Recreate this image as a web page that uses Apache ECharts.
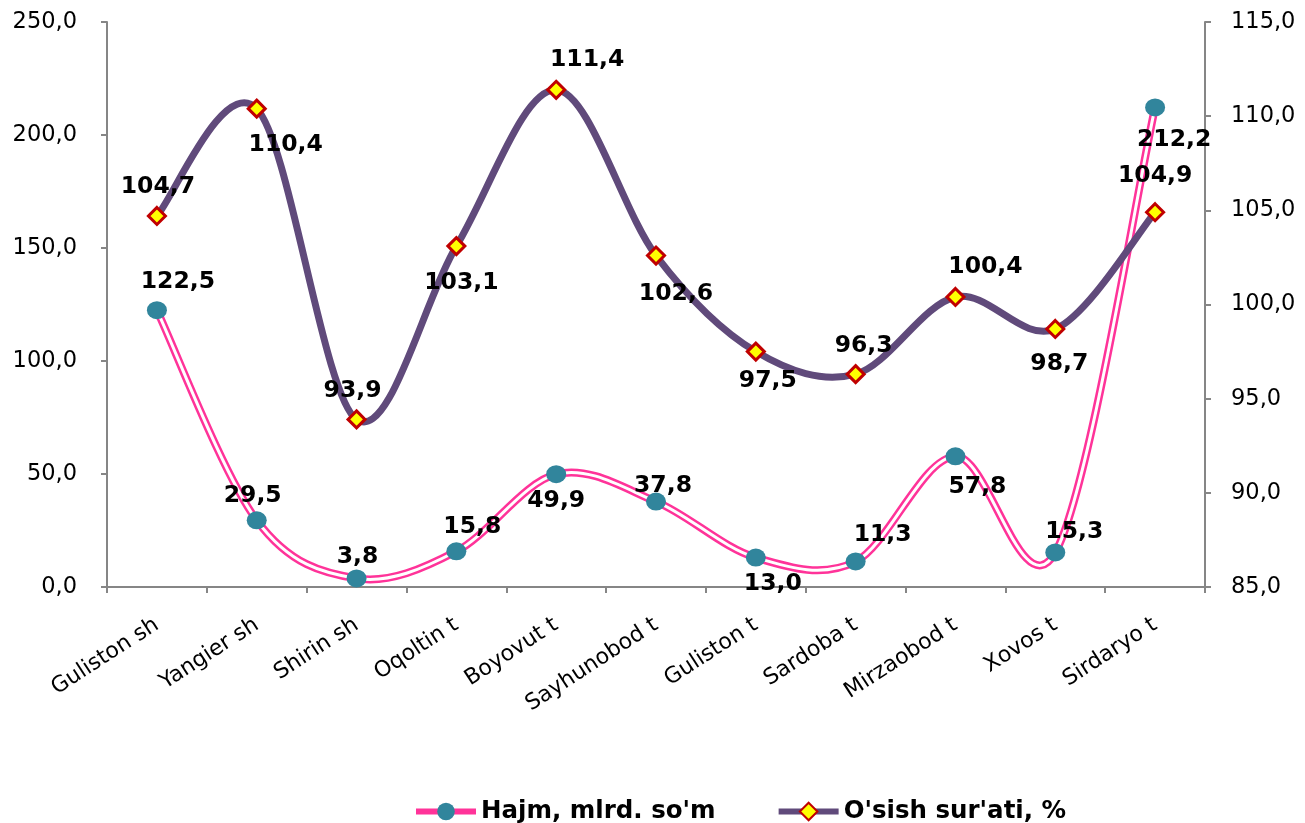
<!DOCTYPE html>
<html><head><meta charset="utf-8">
<script src="https://cdn.jsdelivr.net/npm/echarts@6/dist/echarts.min.js"></script>
<style>html,body{margin:0;padding:0;background:#fff}#c{width:1305px;height:823px}</style>
</head><body><div id="c"></div>
<script>
const categories = ['Guliston sh','Yangier sh','Shirin sh','Oqoltin t','Boyovut t','Sayhunobod t','Guliston t','Sardoba t','Mirzaobod t','Xovos t','Sirdaryo t'];
const hajm = [122.5, 29.5, 3.8, 15.8, 49.9, 37.8, 13.0, 11.3, 57.8, 15.3, 212.2];
const osish = [104.7, 110.4, 93.9, 103.1, 111.4, 102.6, 97.5, 96.3, 100.4, 98.7, 104.9];
const seriesNames = ["Hajm, mlrd. so'm", "O'sish sur'ati, %"];

// label offsets relative to marker centre (styling only)
const hajmOff = [[21,-28],[-4,-24],[1,-22],[16,-24],[0,27],[7,-16],[17,26],[27,-27],[22,31],[19,-21],[19,32]];
const osOff = [[1,-29],[29,36],[-4,-28],[5,37],[31,-30],[20,38],[12,29],[8,-28],[30,-30],[4,35],[0,-36]];

const fmt = v => Number(v).toFixed(1).replace('.', ',');
const labelFont = {fontFamily:'DejaVu Sans', fontWeight:'bold', fontSize:23.5, color:'#000'};

// Smooth (Catmull-Rom) curve through the data points, using the chart's own scales
function curveRenderer(arr, strokes) {
  return function (params, api) {
    if (params.dataIndex !== 0) return null;
    const pts = arr.map((v, j) => api.coord([j, v]));
    const n = pts.length;
    let d = 'M' + pts[0][0] + ' ' + pts[0][1];
    for (let i = 0; i < n - 1; i++) {
      const p0 = pts[Math.max(i - 1, 0)], p1 = pts[i], p2 = pts[i + 1], p3 = pts[Math.min(i + 2, n - 1)];
      const c1 = [p1[0] + (p2[0] - p0[0]) / 6, p1[1] + (p2[1] - p0[1]) / 6];
      const c2 = [p2[0] - (p3[0] - p1[0]) / 6, p2[1] - (p3[1] - p1[1]) / 6];
      d += ' C' + c1[0] + ' ' + c1[1] + ' ' + c2[0] + ' ' + c2[1] + ' ' + p2[0] + ' ' + p2[1];
    }
    return {
      type: 'group',
      children: strokes.map(s => ({
        type: 'path', shape: {pathData: d},
        style: {fill: 'none', stroke: s.color, lineWidth: s.width, lineJoin: 'round', lineCap: 'round'}
      }))
    };
  };
}

const chart = echarts.init(document.getElementById('c'));
const axisLine = {show:true, lineStyle:{color:'#868686', width:2}};
const tick = {show:true, length:6, lineStyle:{color:'#868686', width:2}};
chart.setOption({
  animation:false,
  grid:{left:107, right:100, top:22, bottom:236},
  legend:{
    left:408, top:794, itemWidth:60, itemHeight:22, itemGap:60,
    data:[
      {name:seriesNames[0], lineStyle:{color:'#FF3399', width:6, opacity:1}},
      {name:seriesNames[1], lineStyle:{color:'#604A7B', width:6, opacity:1}}
    ],
    textStyle:{fontFamily:'DejaVu Sans', fontWeight:'bold', fontSize:24.5, color:'#000'}
  },
  xAxis:{
    type:'category', data:categories, boundaryGap:true,
    axisLine:axisLine, axisTick:tick,
    axisLabel:{rotate:33, fontFamily:'DejaVu Sans', fontSize:22, color:'#000', margin:36, interval:0}
  },
  yAxis:[
    {type:'value', min:0, max:250, interval:50, splitLine:{show:false},
     axisLine:axisLine, axisTick:tick,
     axisLabel:{formatter:fmt, fontFamily:'DejaVu Sans', fontSize:22.5, color:'#000', margin:30}},
    {type:'value', min:85, max:115, interval:5, splitLine:{show:false}, position:'right',
     axisLine:axisLine, axisTick:tick,
     axisLabel:{formatter:fmt, fontFamily:'DejaVu Sans', fontSize:22.5, color:'#000', margin:26}}
  ],
  series:[
    {name:'hajmCurve', type:'custom', yAxisIndex:0, data:hajm, z:2, silent:true,
     renderItem:curveRenderer(hajm, [{color:'#FF3399', width:8}, {color:'#ffffff', width:3}])},
    {name:'osishCurve', type:'custom', yAxisIndex:1, data:osish, z:3, silent:true,
     renderItem:curveRenderer(osish, [{color:'#604A7B', width:7}])},
    {name:seriesNames[0], type:'line', yAxisIndex:0, data:hajm.map((v,i)=>({value:v, label:{offset:hajmOff[i]}})), z:4,
     lineStyle:{color:'#FF3399', width:0, opacity:0}, itemStyle:{color:'#31859C'},
     symbol:'circle', symbolSize:[20,18],
     label:Object.assign({show:true, position:'inside', align:'center', verticalAlign:'middle', formatter:p=>fmt(p.value)}, labelFont)},
    {name:seriesNames[1], type:'line', yAxisIndex:1, data:osish.map((v,i)=>({value:v, label:{offset:osOff[i]}})), z:5,
     lineStyle:{color:'#604A7B', width:0, opacity:0}, itemStyle:{color:'#FFFF00', borderColor:'#C00000', borderWidth:3},
     symbol:'diamond', symbolSize:17,
     label:Object.assign({show:true, position:'inside', align:'center', verticalAlign:'middle', formatter:p=>fmt(p.value)}, labelFont)}
  ]
});
</script></body></html>
